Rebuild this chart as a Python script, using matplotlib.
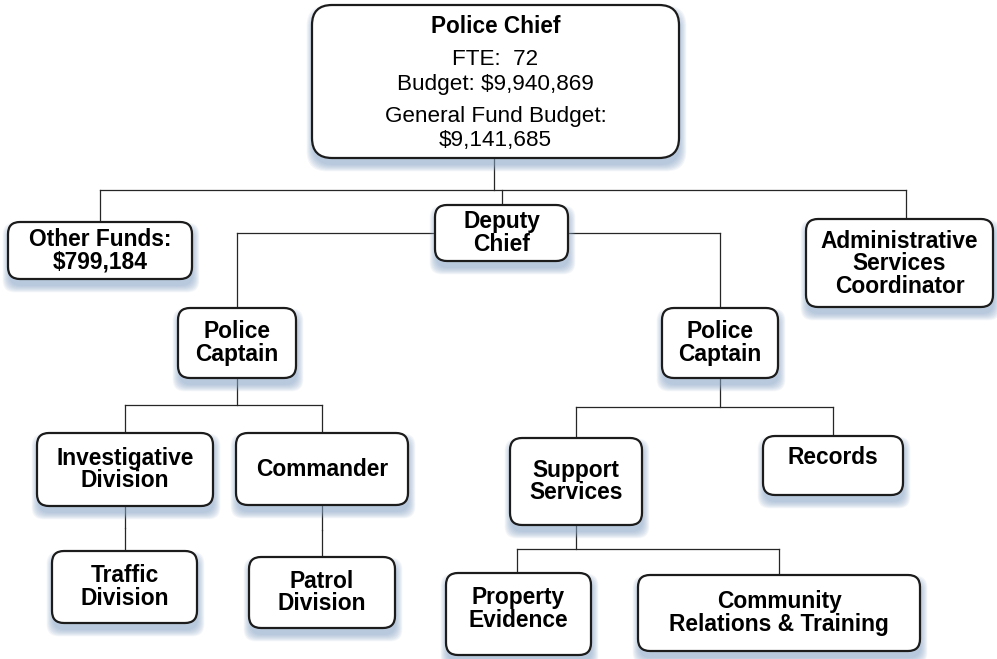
import matplotlib
matplotlib.use("Agg")
import matplotlib.pyplot as plt
from matplotlib.patches import FancyBboxPatch

plt.rcParams['font.family'] = ['Liberation Sans', 'DejaVu Sans']

# --- contenu de l'organigramme ---
chefe_titulo = "Police Chief"
chefe_linhas = ["FTE:  72", "Budget: $9,940,869", "General Fund Budget:", "$9,141,685"]

rotulos = {
    "outros": "Other Funds:\n$799,184",
    "deputy": "Deputy\nChief",
    "admin": "Administrative\nServices\nCoordinator",
    "cap_esq": "Police\nCaptain",
    "cap_dir": "Police\nCaptain",
    "invest": "Investigative\nDivision",
    "comandante": "Commander",
    "trafego": "Traffic\nDivision",
    "patrulha": "Patrol\nDivision",
    "suporte": "Support\nServices",
    "registros": "Records",
    "propriedade": "Property\nEvidence",
    "comunidade": "Community\nRelations & Training",
}

# hierarquia: pai -> filhos
hierarquia = {
    "chefe": ["outros", "deputy", "admin"],
    "deputy": ["cap_esq", "cap_dir"],
    "cap_esq": ["invest", "comandante"],
    "invest": ["trafego"],
    "comandante": ["patrulha"],
    "cap_dir": ["suporte", "registros"],
    "suporte": ["propriedade", "comunidade"],
}

# --- layout em pixels (x0, y0, x1, y1), y para baixo ---
caixas = {
    "chefe": (312, 5, 679, 158),
    "outros": (8, 222, 192, 279),
    "deputy": (435, 205, 568, 261),
    "admin": (806, 219, 993, 307),
    "cap_esq": (178, 308, 296, 378),
    "cap_dir": (662, 308, 778, 378),
    "invest": (37, 433, 213, 506),
    "comandante": (236, 433, 408, 505),
    "trafego": (52, 551, 197, 623),
    "patrulha": (249, 557, 395, 628),
    "suporte": (510, 438, 642, 525),
    "registros": (763, 436, 903, 495),
    "propriedade": (446, 573, 591, 655),
    "comunidade": (638, 575, 920, 651),
}
ajuste_texto = {"registros": -8, "propriedade": -5, "admin": 1}
# x do conector de cada filho e y do barramento de cada pai
x_conector = {"admin": 906, "propriedade": 517, "outros": 100}
y_barramento = {"chefe": 190, "deputy": 233, "cap_esq": 405, "invest": 528,
                "comandante": 530, "cap_dir": 407, "suporte": 549}

fig = plt.figure(figsize=(9.97, 6.59), dpi=100)
ax = fig.add_axes([0, 0, 1, 1])
ax.set_xlim(0, 997)
ax.set_ylim(659, 0)
ax.axis('off')

cor_linha = '#262626'


def centro_x(nome):
    x0, _, x1, _ = caixas[nome]
    return x_conector.get(nome, (x0 + x1) / 2)


# conectores
for pai, filhos in hierarquia.items():
    px0, py0, px1, py1 = caixas[pai]
    yb = y_barramento[pai]
    xs = [centro_x(f) for f in filhos]
    if pai == "deputy":
        # sai pelas laterais do Deputy Chief
        ax.plot([min(xs), max(xs)], [yb, yb], color=cor_linha, lw=0.9, zorder=1)
    else:
        xp = (px0 + px1) / 2 if pai != "chefe" else 494
        ax.plot([xp, xp], [py1, yb], color=cor_linha, lw=0.9, zorder=1)
        ax.plot([min(xs + [xp]), max(xs + [xp])], [yb, yb], color=cor_linha, lw=0.9, zorder=1)
    for f, xf in zip(filhos, xs):
        ax.plot([xf, xf], [yb, caixas[f][1]], color=cor_linha, lw=0.9, zorder=1)


def desenha_caixa(nome):
    x0, y0, x1, y1 = caixas[nome]
    w, h = x1 - x0, y1 - y0
    raio = 20 if nome == "chefe" else 12
    # sombra azulada difusa
    for k in range(8):
        sombra = FancyBboxPatch((x0 + 1, y0 + 7), w, h,
                                boxstyle=f"round,pad={k * 0.9},rounding_size={raio}",
                                fc='#8aa6c8', ec='none', alpha=0.1, zorder=2)
        ax.add_patch(sombra)
    caixa = FancyBboxPatch((x0, y0), w, h, boxstyle=f"round,pad=0,rounding_size={raio}",
                           fc='white', ec='#1c1c1c', lw=1.6, zorder=3)
    ax.add_patch(caixa)


for nome in caixas:
    desenha_caixa(nome)

# textos
x0, y0, x1, y1 = caixas["chefe"]
xc = (x0 + x1) / 2
ax.text(xc, 33, chefe_titulo, ha='center', va='baseline', fontsize=16.3,
        fontweight='bold', zorder=4)
for linha, yb in zip(chefe_linhas, [65, 90, 122, 146]):
    ax.text(xc, yb, linha, ha='center', va='baseline', fontsize=16.2, zorder=4)

for nome, rotulo in rotulos.items():
    x0, y0, x1, y1 = caixas[nome]
    ax.text((x0 + x1) / 2, (y0 + y1) / 2 + ajuste_texto.get(nome, 0), rotulo,
            ha='center', va='center', fontsize=16.4, fontweight='bold',
            linespacing=0.98, multialignment='center', zorder=4)

fig.savefig("out.png", dpi=100)
